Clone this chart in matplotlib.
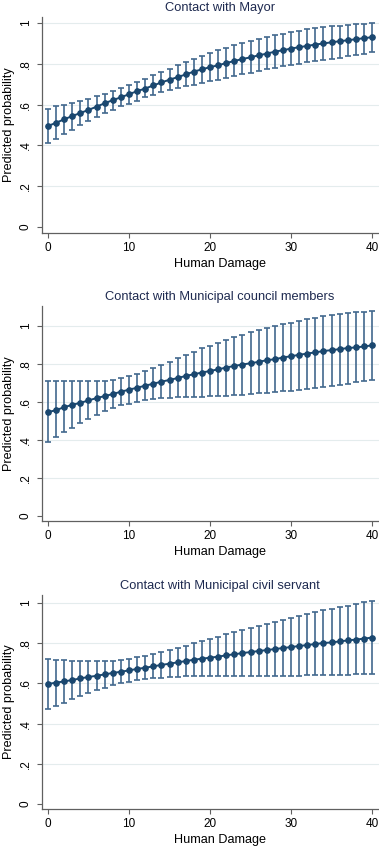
import numpy as np
import matplotlib
matplotlib.use("Agg")
import matplotlib.pyplot as plt

plt.rcParams['font.family'] = ['Liberation Sans', 'DejaVu Sans']

human_damage = np.arange(0, 41)

titles = ["Contact with Mayor",
          "Contact with Municipal council members",
          "Contact with Municipal civil servant"]

mayor_mean = [.495, .511, .528, .544, .559, .574, .590, .607, .622, .636, .651, .666, .679, .694, .709, .722,
              .735, .748, .762, .773, .784, .793, .804, .814, .824, .832, .842, .850, .860, .867, .875, .882,
              .888, .895, .900, .906, .911, .916, .921, .926, .931]
mayor_upper = [.577, .592, .599, .607, .618, .628, .641, .653, .666, .681, .696, .712, .727, .743, .760, .776,
               .792, .809, .826, .840, .852, .867, .880, .891, .903, .912, .923, .933, .941, .949, .956, .962,
               .969, .975, .980, .985, .988, .992, .995, .998, 1.0]
mayor_lower = [.411, .433, .454, .477, .502, .521, .539, .558, .576, .594, .604, .620, .635, .648, .660, .672,
               .680, .689, .697, .704, .714, .722, .731, .740, .748, .756, .764, .773, .782, .788, .794, .801,
               .808, .812, .819, .824, .831, .837, .844, .850, .860]

council_mean = [.547, .557, .573, .585, .596, .608, .621, .631, .642, .654, .665, .675, .686, .696, .707, .716,
                .726, .737, .746, .755, .763, .772, .781, .790, .797, .804, .811, .820, .825, .834, .841, .848,
                .855, .861, .868, .873, .878, .884, .887, .892, .898]
council_upper = [.709, .709, .709, .709, .708, .708, .709, .711, .714, .725, .737, .749, .764, .779, .797, .812,
                 .830, .848, .864, .882, .897, .912, .926, .942, .952, .966, .977, .988, .998, 1.009, 1.018, 1.026,
                 1.034, 1.042, 1.051, 1.056, 1.062, 1.067, 1.072, 1.076, 1.079]
council_lower = [.391, .414, .441, .465, .490, .511, .532, .553, .568, .582, .592, .601, .608, .614, .619, .623,
                 .625, .627, .628, .628, .629, .631, .633, .636, .638, .642, .645, .649, .652, .656, .659, .665,
                 .670, .675, .681, .686, .691, .696, .704, .709, .714]

servant_mean = [.597, .604, .610, .617, .625, .632, .638, .645, .652, .658, .665, .672, .678, .685, .692, .698,
                .705, .711, .718, .723, .728, .733, .740, .745, .751, .756, .761, .766, .771, .776, .781, .786,
                .791, .796, .801, .804, .809, .814, .818, .823, .828]
servant_upper = [.721, .718, .716, .714, .714, .713, .713, .713, .714, .716, .721, .729, .736, .745, .755, .764,
                 .776, .787, .800, .809, .822, .833, .844, .856, .866, .876, .887, .897, .907, .917, .927, .937,
                 .945, .955, .964, .972, .978, .987, .995, 1.003, 1.010]
servant_lower = [.473, .490, .505, .520, .536, .551, .565, .578, .590, .600, .609, .615, .620, .625, .629, .632,
                 .634, .635, .635, .636, .635, .635, .635, .635, .635, .636, .637, .637, .637, .638, .638, .638,
                 .640, .640, .642, .642, .643, .643, .645, .645, .647]

means = [mayor_mean, council_mean, servant_mean]
uppers = [mayor_upper, council_upper, servant_upper]
lowers = [mayor_lower, council_lower, servant_lower]

y_ticks = [0, 0.2, 0.4, 0.6, 0.8, 1.0]
y_ticklabels = ["0", ".2", ".4", ".6", ".8", "1"]
x_ticks = [0, 10, 20, 30, 40]

W, H = 379, 850
fig = plt.figure(figsize=(W / 100, H / 100), dpi=100)
fig.patch.set_facecolor('white')

# (top_px, bottom_px, ymin, ymax)
panels = [(17, 233, -0.03, 1.03), (306, 521, -0.026, 1.105), (595, 809, -0.025, 1.04)]
left_px, right_px = 42, 379

line_col = '#1a476f'
bar_col = '#42688e'
grid_col = '#e4eced'
spine_col = '#606060'

for i, (top, bot, ymin, ymax) in enumerate(panels):
    ax = fig.add_axes([left_px / W, (H - bot) / H, (right_px - left_px) / W, (bot - top) / H])
    mean = np.array(means[i])
    up = np.array(uppers[i])
    lo = np.array(lowers[i])
    ax.errorbar(human_damage, mean, yerr=[mean - lo, up - mean], fmt='none',
                ecolor=bar_col, elinewidth=1.2, capsize=2.1, capthick=1.2, zorder=2)
    ax.plot(human_damage, mean, '-o', color=line_col, lw=1.4, markersize=3.8,
            markerfacecolor=line_col, markeredgecolor=line_col, zorder=3)
    ax.set_xlim(-0.74, 40.86)
    ax.set_ylim(ymin, ymax)
    for yv in y_ticks[1:]:
        ax.axhline(yv, color=grid_col, lw=0.8, zorder=0)
    ax.set_yticks(y_ticks)
    ax.set_yticklabels(y_ticklabels, rotation=90, va='center')
    ax.set_xticks(x_ticks)
    for s in ['top', 'right']:
        ax.spines[s].set_visible(False)
    for s in ['left', 'bottom']:
        ax.spines[s].set_color(spine_col)
        ax.spines[s].set_linewidth(0.9)
    ax.tick_params(axis='both', colors=spine_col, length=3.5, width=0.8, labelsize=8.5,
                   labelcolor='black', pad=3)
    ax.tick_params(axis='y', pad=4)
    ax.set_title(titles[i], fontsize=9.3, color='#1e2a50', x=0.528, pad=4)
    ax.set_xlabel("Human Damage", fontsize=9.1)
    ax.xaxis.set_label_coords(0.528, -0.115)
    ax.set_ylabel("Predicted probability", fontsize=9.1)
    ax.yaxis.set_label_coords(-0.080, 0.5)

fig.savefig("out.png", dpi=100, facecolor='white')
